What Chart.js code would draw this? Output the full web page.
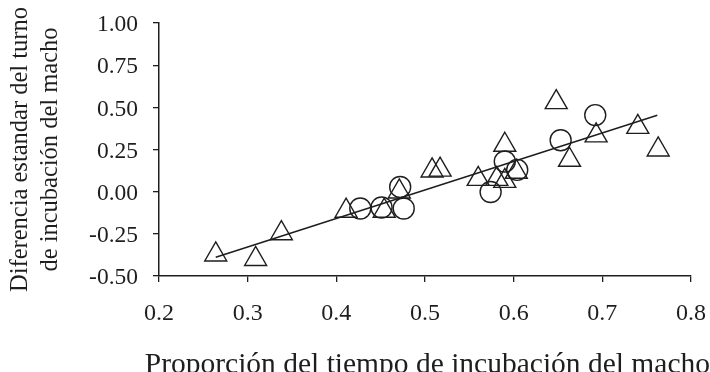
<!DOCTYPE html>
<html>
<head>
<meta charset="utf-8">
<script src="https://cdn.jsdelivr.net/npm/chart.js@4/dist/chart.umd.min.js"></script>
<style>
  html, body { margin: 0; padding: 0; background: #ffffff; }
  #wrap { width: 710px; height: 372px; }
</style>
</head>
<body>
<div id="wrap"><canvas id="c" width="710" height="372"></canvas></div>
<script>
// Data
const triangleX = [0.264, 0.309, 0.338, 0.411, 0.454, 0.471, 0.508, 0.517, 0.560, 0.581, 0.590, 0.590, 0.603, 0.648, 0.663, 0.693, 0.740, 0.763];
const triangleY = [-0.373, -0.400, -0.247, -0.114, -0.114, 0.000, 0.125, 0.130, 0.075, 0.075, 0.063, 0.277, 0.117, 0.530, 0.188, 0.333, 0.383, 0.249];
const circleX = [0.427, 0.451, 0.472, 0.476, 0.574, 0.590, 0.604, 0.653, 0.692];
const circleY = [-0.100, -0.094, 0.028, -0.100, -0.002, 0.179, 0.129, 0.305, 0.454];
const fitX = [0.264, 0.762];
const fitY = [-0.389, 0.453];
const xTicks = [0.2, 0.3, 0.4, 0.5, 0.6, 0.7, 0.8];
const yTicks = [-0.50, -0.25, 0.00, 0.25, 0.50, 0.75, 1.00];
const xTitle = "Proporción del tiempo de incubación del macho";
const yTitle = ["Diferencia estandar del turno", "de incubación del macho"];

const toPts = (xs, ys) => xs.map((x, i) => ({ x: x, y: ys[i] }));
const ink = '#1e1e1e';
const serif = "'Liberation Serif', 'Times New Roman', serif";

// bottom title box: font 29.5, lineHeight 1 -> 29.5 ; padding bottom -7.5
const TITLE_PAD_B = -7.5;
const TITLE_H = 29.5 + TITLE_PAD_B;

new Chart(document.getElementById('c'), {
  type: 'scatter',
  data: {
    datasets: [
      {
        type: 'line',
        data: toPts(fitX, fitY),
        borderColor: ink,
        borderWidth: 1.5,
        pointRadius: 0,
        fill: false
      },
      {
        data: toPts(triangleX, triangleY),
        pointStyle: 'triangle',
        pointRadius: 12.7,
        pointBorderWidth: 1.4,
        borderColor: ink,
        backgroundColor: 'rgba(0,0,0,0)'
      },
      {
        data: toPts(circleX, circleY),
        pointStyle: 'circle',
        pointRadius: 10.5,
        pointBorderWidth: 1.4,
        borderColor: ink,
        backgroundColor: 'rgba(0,0,0,0)'
      }
    ]
  },
  options: {
    responsive: false,
    animation: false,
    events: [],
    layout: { padding: { top: 23, right: 0, left: 0, bottom: 0 } },
    plugins: {
      legend: { display: false },
      tooltip: { enabled: false },
      title: {
        display: true,
        position: 'bottom',
        align: 'end',
        text: xTitle,
        color: ink,
        font: { family: serif, size: 29.5, weight: 'normal', lineHeight: 1 },
        padding: { top: 0, bottom: TITLE_PAD_B }
      }
    },
    scales: {
      x: {
        type: 'linear',
        min: 0.2,
        max: 0.8,
        afterBuildTicks: (s) => { s.ticks = xTicks.map(v => ({ value: v })); },
        afterFit: (s) => {
          s.height = 96 - TITLE_H;
          s.paddingLeft = 0; s.paddingRight = 19; s.paddingTop = 0; s.paddingBottom = 0;
        },
        ticks: {
          color: ink,
          font: { family: serif, size: 24 },
          padding: 17,
          maxRotation: 0,
          callback: (v) => Number(v).toFixed(1)
        },
        grid: { display: true, drawOnChartArea: false, drawTicks: true, tickLength: 6, color: ink, lineWidth: 1.3 },
        border: { display: true, color: ink, width: 1.5 },
        title: { display: false }
      },
      y: {
        type: 'linear',
        min: -0.5,
        max: 1.0,
        afterBuildTicks: (s) => { s.ticks = yTicks.map(v => ({ value: v })); },
        afterFit: (s) => {
          s.width = 159;
          s.paddingLeft = 0; s.paddingRight = 0; s.paddingTop = 0; s.paddingBottom = 0;
        },
        ticks: {
          color: ink,
          font: { family: serif, size: 23.5 },
          padding: 15,
          labelOffset: 2,
          callback: (v) => Number(v).toFixed(2)
        },
        grid: { display: true, drawOnChartArea: false, drawTicks: true, tickLength: 6, color: ink, lineWidth: 1.3 },
        border: { display: true, color: ink, width: 1.5 },
        title: {
          display: true,
          text: yTitle,
          color: ink,
          font: { family: serif, size: 24.5 },
          padding: { top: 6, bottom: 0 }
        }
      }
    }
  }
});
</script>
</body>
</html>
